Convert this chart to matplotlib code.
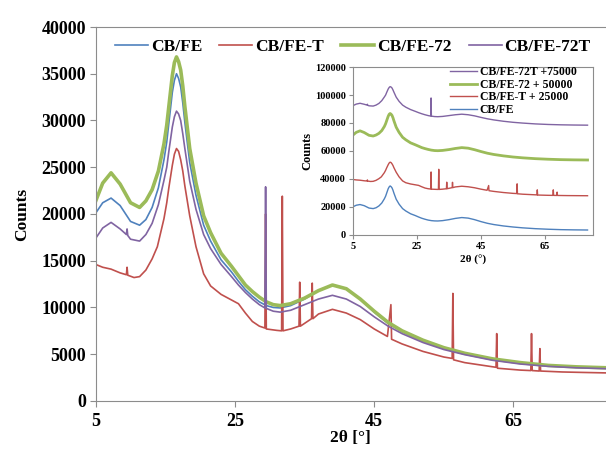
""" XRD patterns of CB/FE samples, with stacked inset """
import numpy as np
from matplotlib import pyplot as plt

# 2-theta grid shared by CB/FE and CB/FE-72
tt_base = [5, 6, 7.2, 8.5, 10, 11.3, 12.2, 13.1, 14, 14.8, 15.2, 15.5, 16.0,
           16.3, 16.6, 16.9, 17.2, 17.5, 17.8, 18.5, 19.4, 20.5, 21.5, 23,
           24.5, 25.5, 26.5, 27.5, 28.5, 29.5, 30.5, 31.5, 33, 35, 37, 39,
           41, 43, 45, 47, 49, 52, 55, 58, 62, 66, 70, 74, 78.3]

cbfe = [20100, 21200, 21700, 20900, 19200, 18800, 19400, 20700, 22800, 25800,
        27700, 29700, 33000, 34300, 35000, 34500, 33600, 31900, 29800, 25500,
        22000, 18800, 17100, 15100, 13800, 12800, 11900, 11200, 10600, 10200,
        10000, 9950, 10200, 10900, 11800, 12400, 12000, 10900, 9500, 8300,
        7400, 6400, 5650, 5050, 4450, 4050, 3750, 3600, 3500]

cbfe_72 = [21400, 23300, 24400, 23200, 21200, 20700, 21400, 22600, 24600,
           27500, 29500, 31500, 34800, 36200, 36800, 36300, 35400, 33700,
           31500, 27000, 23300, 19800, 18000, 15800, 14400, 13400, 12400,
           11700, 11100, 10600, 10300, 10200, 10400, 11000, 11800, 12400,
           12000, 10900, 9600, 8400, 7500, 6500, 5700, 5100, 4500, 4100,
           3800, 3650, 3550]

# CB/FE-72T (one sharp reflection near 29.4)
tt_72t = [5, 6, 7.2, 8.5, 9.4, 9.5, 9.6, 10, 11.3, 12.2, 13.1, 14, 14.8, 15.2,
          15.5, 16.0, 16.3, 16.6, 16.9, 17.2, 17.5, 17.8, 18.5, 19.4, 20.5,
          21.5, 23, 24.5, 25.5, 26.5, 27.5, 28.5, 29.3, 29.4, 29.5, 30.5,
          31.5, 33, 35, 37, 39, 41, 43, 45, 47, 49, 52, 55, 58, 62, 66, 70,
          74, 78.3]
cbfe_72t = [17400, 18500, 19100, 18400, 17800, 18400, 17700, 17300, 17100,
            17800, 19000, 21000, 23600, 25000, 26700, 29300, 30400, 31000,
            30700, 30000, 28600, 27000, 23500, 20500, 17800, 16300, 14600,
            13300, 12400, 11600, 10900, 10300, 9950, 22900, 9900, 9600, 9500,
            9700, 10300, 10900, 11300, 10900, 10100, 9000, 8000, 7200, 6250,
            5500, 4950, 4350, 3950, 3700, 3550, 3450]

# CB/FE-T (crystalline reflections)
tt_t = [5, 6, 7.2, 8.5, 9.4, 9.5, 9.6, 10.5, 11.3, 12.2, 13.1, 13.85, 14.8,
        15.2, 15.5, 16.0, 16.3, 16.6, 16.9, 17.2, 17.5, 17.8, 18.5, 19.4,
        20.5, 21.5, 23, 24.5, 25.5, 26.5, 27.5, 28.5, 29.3, 29.4, 29.5, 31.0,
        31.7, 31.8, 31.9, 33, 34.2, 34.3, 34.4, 36.0, 36.1, 36.2, 37, 39, 41,
        43, 45, 46.9, 47.4, 47.5, 49, 52, 55, 56.2, 56.3, 56.4, 58, 62.5,
        62.6, 62.7, 66, 67.5, 67.6, 67.7, 68.7, 68.8, 68.9, 72, 75, 78.3]
cbfe_t = [14600, 14300, 14100, 13700, 13500, 14300, 13450, 13200, 13300,
          14000, 15200, 16500, 19500, 21200, 22800, 25200, 26400, 27000,
          26700, 25800, 24600, 23000, 19800, 16500, 13600, 12300, 11400,
          10800, 10400, 9400, 8500, 8000, 7800, 20000, 7700, 7550, 7500,
          21900, 7500, 7700, 8000, 12700, 8000, 8800, 12600, 8800, 9300, 9800,
          9400, 8700, 7700, 6900, 10300, 6600, 6100, 5300, 4700, 4550, 11500,
          4400, 4100, 3600, 7200, 3500, 3300, 3250, 7200, 3250, 3200, 5600,
          3200, 3100, 3050, 3000]

inset_offsets = [0, 25000, 50000, 75000]

clr_b = '#4F81BD'
clr_r = '#C0504D'
clr_g = '#9BBB59'
clr_p = '#8064A2'
spine_clr = '#8C8C8C'

plt.rcParams['font.family'] = ['Liberation Serif', 'DejaVu Serif']
plt.rcParams['font.weight'] = 'bold'

fig = plt.figure(figsize=(6.06, 4.5), dpi=100)
ax = fig.add_axes([0.158, 0.109, 0.842, 0.831])

ax.plot(tt_base, cbfe, color=clr_b, lw=1.2, label='CB/FE')
ax.plot(tt_t, cbfe_t, color=clr_r, lw=1.2, label='CB/FE-T')
ax.plot(tt_base, cbfe_72, color=clr_g, lw=2.6, label='CB/FE-72')
ax.plot(tt_72t, cbfe_72t, color=clr_p, lw=1.2, label='CB/FE-72T')

ax.set_xlim(5, 78.3)
ax.set_ylim(0, 40000)
ax.set_xticks([5, 25, 45, 65])
ax.set_yticks(np.arange(0, 40001, 5000))
ax.tick_params(labelsize=13, length=4, color=spine_clr, pad=3)
ax.tick_params(axis='x', pad=5)
for sp in ['left', 'bottom', 'top']:
    ax.spines[sp].set_color(spine_clr)
ax.spines['right'].set_visible(False)
ax.set_xlabel('2θ [°]', fontsize=12.5, fontweight='bold', labelpad=0)
ax.set_ylabel('Counts', fontsize=12.5, fontweight='bold', labelpad=8)

ax.legend(loc='center', bbox_to_anchor=(0.582, 0.896),
          bbox_transform=fig.transFigure, ncol=4, frameon=False,
          fontsize=12.5, handlelength=1.9, handletextpad=0.15,
          columnspacing=1.0)

# Inset: stacked patterns
axi = fig.add_axes([0.5825, 0.478, 0.396, 0.373])
axi.plot(tt_base, np.array(cbfe) + inset_offsets[0], color=clr_b, lw=1.0,
         label='CB/FE')
axi.plot(tt_t, np.array(cbfe_t) + inset_offsets[1], color=clr_r, lw=1.0,
         label='CB/FE-T + 25000')
axi.plot(tt_base, np.array(cbfe_72) + inset_offsets[2], color=clr_g, lw=2.0,
         label='CB/FE-72 + 50000')
axi.plot(tt_72t, np.array(cbfe_72t) + inset_offsets[3], color=clr_p, lw=1.0,
         label='CB/FE-72T +75000')
axi.set_xlim(5, 80)
axi.set_ylim(0, 120000)
axi.set_xticks([5, 25, 45, 65])
axi.set_yticks(np.arange(0, 120001, 20000))
axi.tick_params(labelsize=7.5, length=3, color=spine_clr, pad=2)
for sp in axi.spines.values():
    sp.set_color(spine_clr)
axi.set_xlabel('2θ (°)', fontsize=8, fontweight='bold', labelpad=3)
axi.set_ylabel('Counts', fontsize=9, fontweight='bold', labelpad=1)

h, l = axi.get_legend_handles_labels()
axi.legend(h[::-1], l[::-1], loc='upper left', bbox_to_anchor=(0.7426, 0.853),
           bbox_transform=fig.transFigure, frameon=False, fontsize=8.5,
           handlelength=2.3, handletextpad=0.2, labelspacing=0.05,
           borderpad=0, borderaxespad=0)

plt.savefig('out.png', dpi=100)
print('Saved out.png')
